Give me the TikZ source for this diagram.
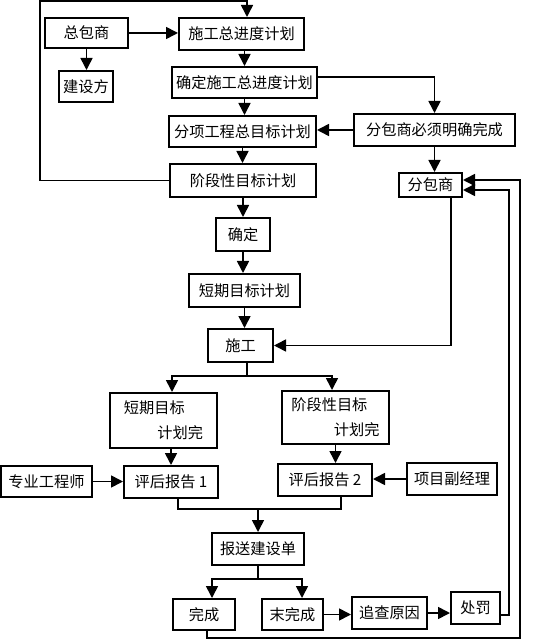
\documentclass[tikz,border=0pt]{standalone}
\usepackage{fontspec}
\newfontfamily\cjk{Noto Sans CJK SC}
\usetikzlibrary{arrows.meta}
\begin{document}
\begin{tikzpicture}[x=0.5pt,y=-0.5pt,
	box/.style={draw,line width=1pt,inner sep=0pt,font=\cjk\fontsize{7.6}{12.5}\selectfont},
	link/.style={line width=0.8pt,-{Triangle[length=6pt,width=6pt]}},
	wire/.style={line width=0.8pt}]
\useasboundingbox (0,0) rectangle (533,640);
\node[box,minimum width=41.5pt,minimum height=15pt] (zbs) at (86.5,33) {总包商};
\node[box,minimum width=62.5pt,minimum height=16pt] (sgzjd) at (241.5,34) {施工总进度计划};
\node[box,minimum width=27pt,minimum height=15.5pt] (jsf) at (86,86.5) {建设方};
\node[box,minimum width=72.5pt,minimum height=15.5pt] (qdsg) at (244.5,82.5) {确定施工总进度计划};
\node[box,minimum width=73.5pt,minimum height=15.5pt] (fxgc) at (242.5,131.5) {分项工程总目标计划};
\node[box,minimum width=80.5pt,minimum height=16pt] (fbsbx) at (434.5,130) {分包商必须明确完成};
\node[box,minimum width=73pt,minimum height=16.5pt] (jdx) at (243,180.5) {阶段性目标计划};
\node[box,minimum width=31.5pt,minimum height=12pt] (fbs) at (430.5,185) {分包商};
\node[box,minimum width=27pt,minimum height=16.5pt] (qd) at (243,234.5) {确定};
\node[box,minimum width=55.5pt,minimum height=16.5pt] (dqmb) at (244.5,290.5) {短期目标计划};
\node[box,minimum width=32.5pt,minimum height=16.5pt] (sg) at (240.5,345.5) {施工};
\node[box,minimum width=53.5pt,minimum height=27.5pt,align=left] (dqwc) at (163.5,420.5) {短期目标\\\hspace*{2.2em}计划完};
\node[box,minimum width=53.5pt,minimum height=26.5pt,align=left] (jdwc) at (335.5,417.5) {阶段性目标\\\hspace*{2.8em}计划完};
\node[box,minimum width=45.5pt,minimum height=15.5pt] (zygcs) at (46.5,481.5) {专业工程师};
\node[box,minimum width=47pt,minimum height=16pt] (phbg1) at (171,482) {评后报告 1};
\node[box,minimum width=47pt,minimum height=16pt] (phbg2) at (325,480) {评后报告 2};
\node[box,minimum width=45pt,minimum height=16pt] (xmfjl) at (452,479) {项目副经理};
\node[box,minimum width=46pt,minimum height=16pt] (bsjsd) at (258,549) {报送建设单};
\node[box,minimum width=31pt,minimum height=15.5pt] (wc) at (204,614.5) {完成};
\node[box,minimum width=30.5pt,minimum height=15.5pt] (wwc) at (292.5,614.5) {末完成};
\node[box,minimum width=37.5pt,minimum height=16pt] (zcyy) at (389.5,613) {追查原因};
\node[box,minimum width=24.5pt,minimum height=16pt] (cf) at (475.5,608) {处罚};
\coordinate (top) at (40,1);
\coordinate (split1) at (247,376);
\coordinate (merge1) at (258,509);
\coordinate (split2) at (258,579);
\coordinate (back1) at (509,190);
\coordinate (back2) at (520,638);
\draw[link] (jdx.west) -| (top) -| ([xshift=2.75pt]sgzjd.north);
\draw[link] (zbs.east) -- (zbs.east -| sgzjd.west);
\draw[link] (zbs.south) -- (zbs.south |- jsf.north);
\draw[link] (qdsg.north |- sgzjd.south) -- (qdsg.north);
\draw[link] ([yshift=2.75pt]qdsg.east) -| (fbsbx.north);
\draw[link] (qdsg.south) -- (qdsg.south |- fxgc.north);
\draw[link] (fbsbx.west) -- (fbsbx.west -| fxgc.east);
\draw[link] (fxgc.south) -- (fxgc.south |- jdx.north);
\draw[link] (fbsbx.south) -- (fbsbx.south |- fbs.north);
\draw[link] (jdx.south) -- (qd.north);
\draw[link] (qd.south) -- (qd.south |- dqmb.north);
\draw[link] (dqmb.south) -- (dqmb.south |- sg.north);
\draw[link] ([xshift=10.25pt]fbs.south) |- (sg.east);
\draw[wire] ([xshift=3.25pt]sg.south) -- (split1);
\draw[link] (split1) -| ([xshift=4.25pt]dqwc.north);
\draw[link] (split1) -| ([xshift=-1.75pt]jdwc.north);
\draw[link] (phbg1.north |- dqwc.south) -- (phbg1.north);
\draw[link] (jdwc.south) -- (jdwc.south |- phbg2.north);
\draw[link] (zygcs.east) -- (zygcs.east -| phbg1.west);
\draw[link] (xmfjl.west) -- (xmfjl.west -| phbg2.east);
\draw[wire] ([xshift=3.5pt]phbg1.south) |- (merge1) -| ([xshift=8pt]phbg2.south);
\draw[link] (merge1) -- (bsjsd.north);
\draw[wire] (bsjsd.south) -- (split2);
\draw[link] (split2) -| ([xshift=4pt]wc.north);
\draw[link] (split2) -| ([xshift=4.75pt]wwc.north);
\draw[link] (wwc.east) -- (wwc.east -| zcyy.west);
\draw[link] (zcyy.east) -- (zcyy.east -| cf.west);
\draw[link] ([yshift=-3.5pt]cf.east) -| (back1) -- ([yshift=-2.5pt]fbs.east);
\draw[link] ([xshift=1.5pt]wc.south) |- (back2) |- ([yshift=2.5pt]fbs.east);
\end{tikzpicture}
\end{document}
